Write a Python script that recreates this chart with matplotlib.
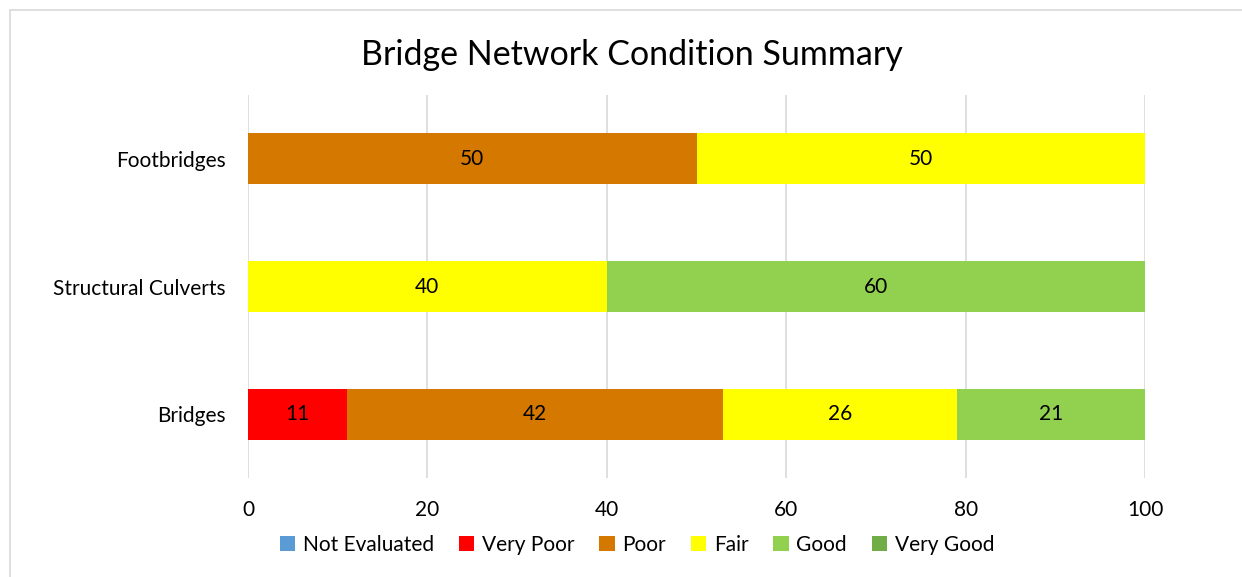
import matplotlib.pyplot as plt
from matplotlib.patches import Rectangle

plt.rcParams['font.family'] = ['Lato', 'DejaVu Sans']

# Data
categories = ['Bridges', 'Structural Culverts', 'Footbridges']
conditions = ['Not Evaluated', 'Very Poor', 'Poor', 'Fair', 'Good', 'Very Good']
colors = ['#5b9bd5', '#ff0000', '#d47800', '#ffff00', '#92d050', '#70ad47']
not_evaluated = [0, 0, 0]
very_poor = [11, 0, 0]
poor = [42, 0, 50]
fair = [26, 40, 50]
good = [21, 60, 0]
very_good = [0, 0, 0]
series = [not_evaluated, very_poor, poor, fair, good, very_good]

fig = plt.figure(figsize=(12.42, 5.77), dpi=100)
ax = fig.add_axes([248 / 1242, 1 - 478 / 577, (1145 - 248) / 1242, (478 - 95) / 577])

# outer chart border
fig.patches.append(Rectangle((10 / 1242, -0.2), 1.2, 1.2 - 10 / 577,
                             transform=fig.transFigure, fill=False,
                             edgecolor='#d9d9d9', linewidth=1.2))

y = range(len(categories))
left = [0] * len(categories)
for name, vals, col in zip(conditions, series, colors):
    bars = ax.barh(y, vals, left=left, height=0.4, color=col, label=name, zorder=3)
    for b, v in zip(bars, vals):
        if v > 0:
            ax.text(b.get_x() + b.get_width() / 2, b.get_y() + b.get_height() / 2,
                    str(v), ha='center', va='center', fontsize=15, color='black', zorder=4)
    left = [l + v for l, v in zip(left, vals)]

ax.set_xlim(0, 100)
ax.set_ylim(-0.5, 2.5)
ax.set_xticks(range(0, 101, 20))
ax.set_yticks(list(y))
ax.set_yticklabels(categories)
ax.tick_params(axis='both', length=0, labelsize=15)
ax.tick_params(axis='x', pad=16)
ax.tick_params(axis='y', pad=16)
ax.grid(axis='x', color='#d9d9d9', linewidth=1.2, zorder=0)
for s in ax.spines.values():
    s.set_visible(False)

fig.text(632 / 1242, 1 - 55 / 577, 'Bridge Network Condition Summary',
         ha='center', va='center', fontsize=24.5)

fig.legend(loc='center', bbox_to_anchor=(637 / 1242, 1 - 545 / 577), ncol=6, frameon=False,
           fontsize=15, handlelength=0.75, handleheight=0.75, handletextpad=0.35,
           columnspacing=1.2)

fig.savefig('out.png', dpi=100)
